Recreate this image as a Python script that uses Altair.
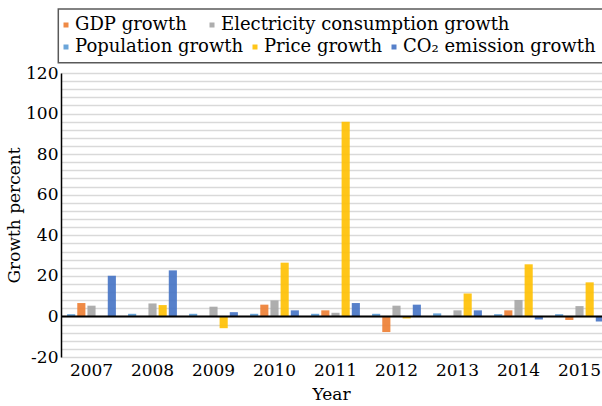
import altair as alt
import pandas as pd

# Annual growth rates (percent) by indicator
years = ["2007", "2008", "2009", "2010", "2011", "2012", "2013", "2014", "2015"]
population = [1.1, 1.3, 1.3, 1.3, 1.3, 1.3, 1.5, 1.1, 1.1]
gdp = [6.6, 0.0, 0.0, 5.8, 3.0, -7.7, 0.0, 3.0, -1.8]
electricity = [5.3, 6.4, 4.8, 7.9, 1.8, 5.3, 3.0, 8.1, 5.1]
price = [0.0, 5.6, -5.8, 26.5, 96.0, -1.0, 11.3, 25.7, 16.8]
co2 = [20.0, 22.7, 2.1, 3.0, 6.6, 5.8, 3.0, -1.5, -2.5]

series_names = [
    "Population growth",
    "GDP growth",
    "Electricity consumption growth",
    "Price growth",
    "CO\u2082 emission growth",
]
series_values = [population, gdp, electricity, price, co2]
series_colors = ["#5B9BD5", "#ED7D31", "#A5A5A5", "#FFC000", "#4472C4"]
color_of = dict(zip(series_names, series_colors))

rows = []
for name, vals in zip(series_names, series_values):
    for yr, v in zip(years, vals):
        rows.append({"year": yr, "series": name, "value": v})
df = pd.DataFrame(rows)

FONT = "'DejaVu Serif', 'Liberation Serif', serif"
row1 = ["GDP growth", "Electricity consumption growth"]
row2 = ["Population growth", "Price growth", "CO\u2082 emission growth"]

x_enc = alt.X(
    "year:N",
    sort=years,
    scale=alt.Scale(range=[0, 549], paddingInner=0.2, paddingOuter=0.1),
    axis=alt.Axis(
        title="Year",
        domain=False,
        ticks=False,
        tickSize=0,
        grid=False,
        labelAngle=0,
        labelFontSize=17,
        labelPadding=5,
        titleFontSize=17,
        titleFontWeight="normal",
        titlePadding=8,
        titleX=270,
    ),
)
xoff_enc = alt.XOffset(
    "series:N", sort=series_names,
    scale=alt.Scale(domain=series_names, paddingInner=0.2),
)
y_enc = alt.Y(
    "value:Q",
    scale=alt.Scale(domain=[-20, 120], nice=False, zero=False),
    axis=alt.Axis(
        title="Growth percent",
        values=list(range(-20, 121, 4)),
        tickCount=100,
        labelExpr="datum.value % 20 == 0 ? '' + datum.value : ''",
        labelOverlap=False,
        ticks=False,
        tickSize=0,
        domainColor="#000000",
        domainWidth=1.5,
        gridColor="#d9d9d9",
        gridWidth=1.5,
        labelFontSize=17,
        labelPadding=3,
        titleFontSize=17,
        titleFontWeight="normal",
        titlePadding=2,
    ),
)


def bars(names, legend_y, col_pad):
    return (
        alt.Chart(df)
        .transform_filter(alt.FieldOneOfPredicate(field="series", oneOf=names))
        .mark_bar(opacity=0.9)
        .encode(
            x=x_enc,
            xOffset=xoff_enc,
            y=y_enc,
            color=alt.Color(
                "series:N",
                sort=names,
                scale=alt.Scale(domain=names, range=[color_of[n] for n in names]),
                legend=alt.Legend(
                    title=None,
                    orient="none",
                    direction="horizontal",
                    legendX=-4,
                    legendY=legend_y,
                    padding=0,
                    symbolType="square",
                    symbolSize=25,
                    symbolStrokeWidth=0,
                    labelOffset=0,
                    labelFontSize=18,
                    labelFont=FONT,
                    labelColor="#000000",
                    labelLimit=400,
                    columnPadding=col_pad,
                ),
            ),
        )
    )


one = pd.DataFrame({"k": [0]})

zero_line = (
    alt.Chart(one)
    .mark_rule(color="#000000", strokeWidth=2)
    .encode(y=alt.datum(0))
)

legend_frame = (
    alt.Chart(one)
    .mark_rect(fill="transparent", stroke="#595959", strokeWidth=1.5)
    .encode(
        x=alt.value(-2.7),
        x2=alt.value(560),
        y=alt.value(-64),
        y2=alt.value(-10.3),
    )
)

chart = (
    alt.layer(bars(row1, -57, 16), bars(row2, -35, 2), zero_line, legend_frame)
    .resolve_scale(color="independent")
    .properties(
        width=541,
        height=284,
        autosize=alt.AutoSizeParams(type="none"),
        padding={"left": 61, "top": 73, "right": 0, "bottom": 49},
        background="#ffffff",
    )
    .configure(font=FONT)
    .configure_view(stroke=None)
    .configure_axis(labelColor="#000000", titleColor="#000000", labelFont=FONT, titleFont=FONT)
)

chart.save("out.html", embed_options={"renderer": "svg", "actions": False})
